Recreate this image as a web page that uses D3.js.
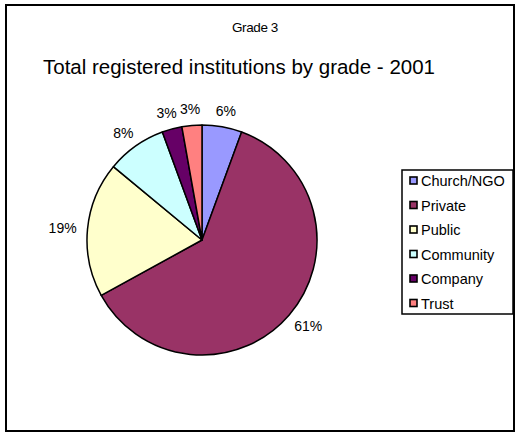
<!DOCTYPE html>
<html>
    <head>
        <script src="https://d3js.org/d3.v7.min.js"></script>
        <style>
            body { margin: 0; background: #fff; }
            text { font-family: "Liberation Sans", Arial, sans-serif; fill: #000; }
        </style>
    </head>
    <body>
        <div id="chart"></div>
        <script>
            // data (shares of total, %)
            categories = ["Church/NGO", "Private", "Public", "Community", "Company", "Trust"]
            values = [5.6, 61.4, 19.0, 8.4, 2.8, 2.8]
            colors = ["#9999FF", "#993366", "#FFFFCC", "#CCFFFF", "#660066", "#FF8080"]
            subtitle = "Grade 3"
            title = "Total registered institutions by grade - 2001"

            width = 516
            height = 434
            cx = 202
            cy = 240
            radius = 115

            const svg = d3.select("#chart")
                .append("svg")
                .attr("width", width)
                .attr("height", height);

            // outer frame
            svg.append("rect")
                .attr("x", 6).attr("y", 5)
                .attr("width", 508).attr("height", 426)
                .attr("fill", "none")
                .attr("stroke", "#000")
                .attr("stroke-width", 2);

            svg.append("text")
                .attr("x", 255).attr("y", 32)
                .attr("text-anchor", "middle")
                .attr("font-size", 13.5)
                .attr("letter-spacing", -0.4)
                .text(subtitle);

            svg.append("text")
                .attr("x", 239).attr("y", 74)
                .attr("text-anchor", "middle")
                .attr("font-size", 20.5)
                .text(title);

            const pie = d3.pie().sort(null).value(d => d)
            const arcs = pie(values)
            const arc = d3.arc().innerRadius(0).outerRadius(radius)

            const g = svg.append("g").attr("transform", `translate(${cx},${cy})`)

            g.selectAll("path")
                .data(arcs)
                .join("path")
                .attr("d", arc)
                .attr("fill", (d, i) => colors[i])
                .attr("stroke", "#000")
                .attr("stroke-width", 1.5)
                .attr("stroke-linejoin", "round");

            // percentage labels outside the pie
            const fmt = v => Math.round(v) + "%"
            g.selectAll("text.lbl")
                .data(arcs)
                .join("text")
                .attr("class", "lbl")
                .attr("font-size", 14)
                .attr("text-anchor", "middle")
                .text(d => fmt(d.data))
                .each(function(d) {
                    const a = (d.startAngle + d.endAngle) / 2
                    const w = this.getComputedTextLength()
                    const h = 11
                    const rr = radius + 11
                    const x = rr * Math.sin(a) + Math.sin(a) * w / 2
                    const y = -rr * Math.cos(a) - Math.cos(a) * h / 2
                    d3.select(this).attr("x", x).attr("y", y + 5);
                });

            // legend
            const lx = 402, ly = 170, lw = 111, step = 24.5
            const legend = svg.append("g")
            legend.append("rect")
                .attr("x", lx).attr("y", ly)
                .attr("width", lw).attr("height", step * categories.length - 3)
                .attr("fill", "#fff")
                .attr("stroke", "#000")
                .attr("stroke-width", 1.5);

            const item = legend.selectAll("g.item")
                .data(categories)
                .join("g")
                .attr("class", "item")
                .attr("transform", (d, i) => `translate(${lx}, ${ly + 11 + i * step})`);

            item.append("rect")
                .attr("x", 8).attr("y", -4)
                .attr("width", 7).attr("height", 7)
                .attr("fill", (d, i) => colors[i])
                .attr("stroke", "#000")
                .attr("stroke-width", 1.6);

            item.append("text")
                .attr("x", 19).attr("y", 5)
                .attr("font-size", 14.5)
                .text(d => d);
        </script>
    </body>
</html>
